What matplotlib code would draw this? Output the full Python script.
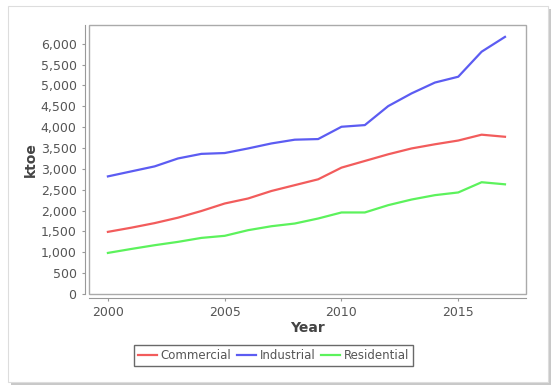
import matplotlib
matplotlib.use("Agg")
import matplotlib.pyplot as plt
from matplotlib.patches import Rectangle
from matplotlib.ticker import FuncFormatter, MultipleLocator

years = list(range(2000, 2018))
commercial = [1490, 1590, 1700, 1830, 1990, 2170, 2290, 2470, 2610, 2750,
              3030, 3190, 3350, 3490, 3590, 3680, 3820, 3770]
industrial = [2820, 2940, 3060, 3250, 3360, 3380, 3490, 3610, 3700, 3715,
              4010, 4050, 4505, 4810, 5070, 5210, 5810, 6165]
residential = [985, 1080, 1170, 1250, 1345, 1395, 1530, 1625, 1690, 1810,
               1955, 1955, 2130, 2265, 2370, 2435, 2680, 2630]

SERIES = [("Commercial", commercial, "#f25c5c"),
          ("Industrial", industrial, "#5c5cf2"),
          ("Residential", residential, "#5cf25c")]
GREY = "#555555"

fig = plt.figure(figsize=(5.58, 3.92), dpi=100)

# card with drop shadow (behind the axes)
fig.patches.append(Rectangle((11 / 558, 1 - 385 / 392), 540 / 558, 376 / 392,
                             transform=fig.transFigure, facecolor="#c8c8c8",
                             edgecolor="none", zorder=-2))
fig.patches.append(Rectangle((8 / 558, 1 - 382 / 392), 540 / 558, 376 / 392,
                             transform=fig.transFigure, facecolor="white",
                             edgecolor="#dddddd", linewidth=0.8, zorder=-1))

ax = fig.add_axes([89 / 558, 1 - 294 / 392, 437 / 558, 269 / 392])
for name, vals, col in SERIES:
    ax.plot(years, vals, color=col, lw=1.6, label=name)

ax.set_xlim(1999.19, 2017.9)
ax.set_ylim(0, 6450)
ax.yaxis.set_major_locator(MultipleLocator(500))
ax.xaxis.set_major_locator(MultipleLocator(5))
ax.yaxis.set_major_formatter(FuncFormatter(lambda v, p: f"{v:,.0f}"))

for s in ["top", "right"]:
    ax.spines[s].set_visible(False)
for s in ["left", "bottom"]:
    ax.spines[s].set_position(("outward", 3))
    ax.spines[s].set_color("#999999")
ax.add_patch(Rectangle((0, 0), 1, 1, transform=ax.transAxes, fill=False,
                       edgecolor="#aaaaaa", lw=1, clip_on=False))
ax.tick_params(colors="#999999", labelcolor=GREY, labelsize=9, length=2.5, width=0.8)

ax.set_xlabel("Year", fontsize=10, fontweight="bold", color="#444444", labelpad=1)
ax.set_ylabel("ktoe", fontsize=10, fontweight="bold", color="#444444", labelpad=2)

leg = fig.legend(loc="center", bbox_to_anchor=(273.5 / 558, 1 - 355.5 / 392), ncol=3,
                 fontsize=8.5, frameon=True, fancybox=False, handlelength=1.6,
                 handletextpad=0.3, columnspacing=0.5, borderpad=0.3,
                 labelcolor=GREY)
leg.get_frame().set_edgecolor("#444444")
leg.get_frame().set_linewidth(1.0)

fig.savefig("out.png", dpi=100)
